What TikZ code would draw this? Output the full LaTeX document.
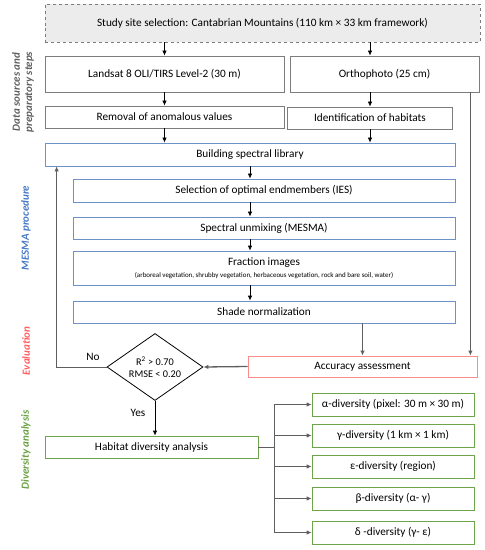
\documentclass[tikz,border=0pt]{standalone}
\usepackage{fontspec}
\setmainfont{Carlito}
\usetikzlibrary{arrows.meta,shapes.geometric,calc}
\definecolor{boxgray}{RGB}{125,125,125}
\definecolor{linegray}{RGB}{95,95,95}
\definecolor{boxblue}{RGB}{110,145,200}
\definecolor{boxred}{RGB}{250,140,140}
\definecolor{boxgreen}{RGB}{110,165,75}
\definecolor{lblgray}{RGB}{95,95,95}
\definecolor{lblblue}{RGB}{70,120,200}
\definecolor{lblred}{RGB}{255,95,95}
\definecolor{lblgreen}{RGB}{105,160,65}
\begin{document}
\begin{tikzpicture}[x=1bp,y=-1bp,font=\fontsize{11.3}{13}\selectfont,
  stepbox/.style={draw=boxgray,thick,inner sep=1bp,align=center},
  bluebox/.style={stepbox,draw=boxblue},
  redbox/.style={stepbox,draw=boxred},
  greenbox/.style={stepbox,draw=boxgreen},
  side/.style={rotate=90,font=\fontsize{11}{12.5}\selectfont\bfseries\itshape,align=center},
  flow/.style={-{Latex[length=5bp,width=4.5bp]},thick},
  grayflow/.style={flow,draw=linegray,line width=1.3bp}]
\useasboundingbox (0,0) rectangle (485,550);
% data sources
\node[stepbox,dashed,fill=gray!15,minimum width=435bp,minimum height=38bp] (site) at (262.5,23) {Study site selection: Cantabrian Mountains (110 km × 33 km framework)};
\node[stepbox,minimum width=239bp,minimum height=36bp] (landsat) at (164.5,74) {Landsat 8 OLI/TIRS Level-2 (30 m)};
\node[stepbox,minimum width=189bp,minimum height=36bp] (ortho) at (384.5,74) {Orthophoto (25 cm)};
\node[stepbox,minimum width=239bp,minimum height=22bp] (removal) at (164.5,117) {Removal of anomalous values};
\node[stepbox,minimum width=165bp,minimum height=22bp] (habitats) at (370,118) {Identification of habitats};
% MESMA
\node[bluebox,minimum width=410bp,minimum height=23bp] (library) at (250,154.5) {Building spectral library};
\node[bluebox,minimum width=382bp,minimum height=23bp] (ies) at (264,190.5) {Selection of optimal endmembers (IES)};
\node[bluebox,minimum width=382bp,minimum height=22bp] (unmix) at (264,228) {Spectral unmixing (MESMA)};
\node[bluebox,minimum width=382bp,minimum height=34bp] (fraction) at (264,268) {Fraction images\\[-1bp]{\fontsize{7}{8.5}\selectfont(arboreal vegetation, shrubby vegetation, herbaceous vegetation, rock and bare soil, water)}};
\node[bluebox,minimum width=382bp,minimum height=22bp] (shade) at (264,312) {Shade normalization};
% evaluation
\node[redbox,minimum width=229bp,minimum height=21bp] (accuracy) at (362.5,366.5) {Accuracy assessment};
\node[draw,thick,diamond,aspect=1.43,minimum width=96bp,minimum height=67bp,inner sep=0pt,align=center,font=\fontsize{10.3}{12}\selectfont] (check) at (155,367) {R\textsuperscript{2} > 0.70\\RMSE < 0.20};
% diversity
\node[greenbox,minimum width=213bp,minimum height=22bp] (divers) at (151.5,447) {Habitat diversity analysis};
\node[greenbox,minimum width=162bp,minimum height=23bp] (alpha) at (393,404.5) {α-diversity (pixel: 30 m × 30 m)};
\node[greenbox,minimum width=162bp,minimum height=23bp] (gamma) at (393,435.5) {γ-diversity (1 km × 1 km)};
\node[greenbox,minimum width=162bp,minimum height=23bp] (eps) at (393,466.5) {ε-diversity (region)};
\node[greenbox,minimum width=162bp,minimum height=23bp] (beta) at (393,498.5) {β-diversity (α- γ)};
\node[greenbox,minimum width=162bp,minimum height=23bp] (delta) at (393,532.5) {δ -diversity (γ- ε)};
% side labels
\node[side,text=lblgray] at (23,92) {Data sources and\\preparatory steps};
\node[side,text=lblblue] at (26,228) {MESMA procedure};
\node[side,text=lblred] at (26,351) {Evaluation};
\node[side,text=lblgreen] at (26,450) {Diversity analysis};
% connectors
\draw[flow] (site.south -| landsat) -- (landsat.north);
\draw[flow] (site.south -| habitats) -- (ortho.north -| habitats);
\draw[flow] (landsat.south) -- (removal.north);
\draw[flow] (ortho.south -| habitats) -- (habitats.north);
\draw[flow] (removal.south) -- (library.north -| removal);
\draw[flow] (habitats.south) -- (library.north -| habitats);
\draw[flow] (library.south) -- (ies.north -| library);
\draw[flow] (ies.south -| library) -- (unmix.north -| library);
\draw[flow] (unmix.south -| library) -- (fraction.north -| library);
\draw[flow] (fraction.south -| library) -- (shade.north -| library);
\draw[grayflow] (shade.south -| accuracy) -- (accuracy.north);
\draw[grayflow] ([xshift=-9bp]ortho.south east) -- ([xshift=-9bp]ortho.south east |- accuracy.north);
\draw[grayflow] (accuracy.west) -- (check.east);
\draw[flow,draw=linegray] (check.west) -| ([xshift=12bp]library.south west);
\node at (93,357) {No};
\draw[flow] (check.south) -- (divers.north -| check);
\node at (138,413) {Yes};
\coordinate (fork) at ([xshift=16bp]divers.east);
\draw[thick,linegray] (divers.east) -- (fork);
\foreach \b in {alpha,gamma,eps,beta,delta}
  \draw[flow,draw=linegray] (fork) |- (\b.west);
\end{tikzpicture}
\end{document}
